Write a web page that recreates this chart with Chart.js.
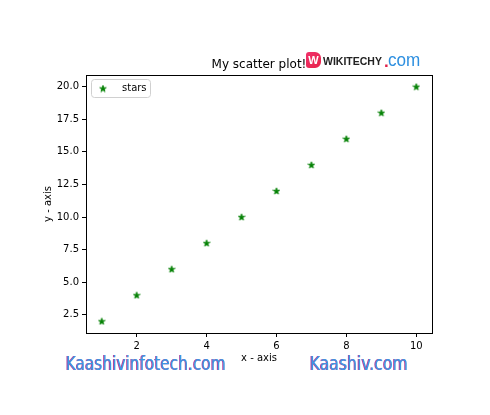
<!DOCTYPE html>
<html>
<head>
<meta charset="utf-8">
<script src="https://cdn.jsdelivr.net/npm/chart.js@4.4.1/dist/chart.umd.min.js"></script>
<style>
  html, body { margin: 0; padding: 0; background: #fff; }
  #wrap { position: relative; width: 490px; height: 415px; overflow: hidden; }
  canvas { position: absolute; left: 0; top: 0; }
  .wm { position: absolute; font-family: "DejaVu Sans Condensed", "DejaVu Sans", sans-serif; font-size: 19px; color: #3a98e4;
        text-shadow: -1px 0 #b8429c; transform-origin: 0 0; white-space: nowrap; line-height: 1; }
  #wk { position: absolute; left: 306px; top: 50px; white-space: nowrap; font-family: "Liberation Sans", Arial, sans-serif; }
  #wk .logo { position: absolute; left: 0; top: 2px; width: 15px; height: 16px; border-radius: 3px 6px 6px 3px;
              background: linear-gradient(135deg, #f0306a, #e8234a); color: #fff; font-weight: bold; font-size: 11px;
              text-align: center; line-height: 16px; }
  #wk .name { position: absolute; left: 17px; top: 5px; font-size: 10.5px; font-weight: bold; color: #222; }
  #wk .dot { position: absolute; left: 78px; top: 2px; font-size: 17px; color: #e0204a; font-weight: bold; }
  #wk .com { position: absolute; left: 82px; top: 0px; font-size: 18px; color: #2d8fe0; transform: scaleX(0.95); transform-origin: 0 0; }
</style>
</head>
<body>
<div id="wrap">
  <canvas id="c" width="490" height="415"></canvas>
  <div id="wk"><div class="logo">W</div><div class="name">WIKITECHY</div><div class="dot">.</div><div class="com">com</div></div>
  <div class="wm" id="wm1" style="left:66px; top:354px;">Kaashivinfotech.com</div>
  <div class="wm" id="wm2" style="left:310px; top:354px;">Kaashiv.com</div>
</div>
<script>
// ---- data ----
const xValues = [1, 2, 3, 4, 5, 6, 7, 8, 9, 10];
const yValues = [2, 4, 6, 8, 10, 12, 14, 16, 18, 20];
const seriesLabel = 'stars';
const chartTitle = 'My scatter plot!';
const xTitle = 'x - axis';
const yTitle = 'y - axis';

const FONT = '"DejaVu Sans", sans-serif';

// fit watermark widths
function fitWidth(id, w) {
  const el = document.getElementById(id);
  const cur = el.getBoundingClientRect().width;
  el.style.transform = 'scaleX(' + (w / cur) + ')';
}
fitWidth('wm1', 160);
fitWidth('wm2', 98);

// star marker image (matplotlib '*')
function makeStar(size, color) {
  const c = document.createElement('canvas');
  c.width = size; c.height = size;
  const g = c.getContext('2d');
  const cx = size / 2, cy = size / 2 + 0.3, R = size / 2 - 0.5, r = R * 0.381966;
  g.beginPath();
  for (let i = 0; i < 10; i++) {
    const a = -Math.PI / 2 + i * Math.PI / 5;
    const rad = i % 2 === 0 ? R : r;
    const px = cx + rad * Math.cos(a), py = cy + rad * Math.sin(a);
    i === 0 ? g.moveTo(px, py) : g.lineTo(px, py);
  }
  g.closePath();
  g.fillStyle = color; g.fill();
  g.strokeStyle = color; g.lineWidth = 0.8; g.stroke();
  return c;
}
const starImg = makeStar(8, '#008000');

const framePlugin = {
  id: 'frame',
  afterDraw(chart) {
    const { ctx, chartArea: a } = chart;
    ctx.save();
    ctx.strokeStyle = '#000';
    ctx.lineWidth = 1;
    ctx.strokeRect(Math.round(a.left) + 0.5, Math.round(a.top) + 0.5, Math.round(a.right - a.left), Math.round(a.bottom - a.top));
    // title
    ctx.fillStyle = '#000';
    ctx.font = '12px ' + FONT;
    ctx.textAlign = 'center';
    ctx.textBaseline = 'alphabetic';
    ctx.fillText(chartTitle, (a.left + a.right) / 2, a.top - 7);
    // legend (matplotlib style, upper left inside)
    const lx = a.left + 5, ly = a.top + 4, lw = 59, lh = 18;
    ctx.beginPath();
    ctx.roundRect(lx + 0.5, ly + 0.5, lw, lh, 3);
    ctx.fillStyle = 'rgba(255,255,255,0.8)';
    ctx.fill();
    ctx.strokeStyle = '#d0d0d0';
    ctx.stroke();
    ctx.drawImage(starImg, lx + 12 - 4, ly + 9.5 - 4);
    ctx.fillStyle = '#000';
    ctx.font = '10px ' + FONT;
    ctx.textAlign = 'left';
    ctx.textBaseline = 'middle';
    ctx.fillText(chart.data.datasets[0].label, lx + 31, ly + 9);
    ctx.restore();
  }
};

new Chart(document.getElementById('c'), {
  type: 'scatter',
  data: {
    datasets: [{
      label: seriesLabel,
      data: xValues.map((x, i) => ({ x, y: yValues[i] })),
      pointStyle: starImg,
      backgroundColor: '#008000',
      borderColor: '#008000'
    }]
  },
  options: {
    responsive: false,
    animation: false,
    devicePixelRatio: 1,
    layout: { padding: { left: 0, top: 75, right: 58, bottom: 0 } },
    plugins: { legend: { display: false }, tooltip: { enabled: false }, title: { display: false } },
    scales: {
      x: {
        type: 'linear',
        min: 0.55, max: 10.45,
        afterFit(s) { s.height = 82; },
        ticks: { stepSize: 2, includeBounds: false, color: '#000', font: { family: FONT, size: 10 }, padding: 3, maxRotation: 0 },
        grid: { drawOnChartArea: false, drawTicks: true, tickLength: 4, color: '#000' },
        border: { display: true, color: '#000' },
        title: { display: true, text: xTitle, color: '#000', font: { family: FONT, size: 10 }, padding: { top: 0, bottom: 51 } }
      },
      y: {
        type: 'linear',
        min: 1.1, max: 20.9,
        afterFit(s) { s.width = 86; },
        ticks: { stepSize: 2.5, includeBounds: false, color: '#000', font: { family: FONT, size: 10 }, padding: 3,
                 callback: v => Number(v).toFixed(1) },
        grid: { drawOnChartArea: false, drawTicks: true, tickLength: 4, color: '#000' },
        border: { display: true, color: '#000' },
        title: { display: true, text: yTitle, color: '#000', font: { family: FONT, size: 10 }, padding: { top: 42, bottom: 0 } }
      }
    }
  },
  plugins: [framePlugin]
});
</script>
</body>
</html>
